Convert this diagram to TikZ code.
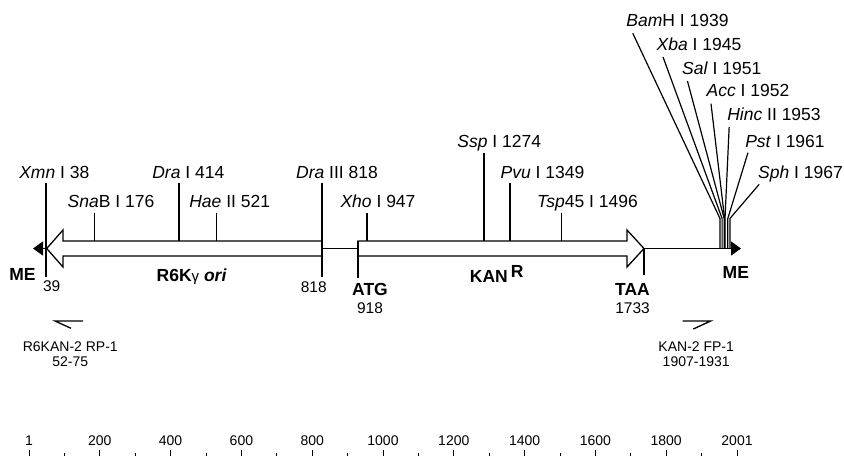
\documentclass[tikz,border=0pt]{standalone}
\usepackage{fontspec}
\setmainfont{Liberation Sans}
\usetikzlibrary{arrows.meta, positioning, calc}

\begin{document}
\begin{tikzpicture}[
    x=1pt, y=-1pt,
    line width=1.3pt,
    site/.style={anchor=base, inner sep=0pt, font=\fontsize{17.5}{20}\selectfont},
    num/.style={anchor=base, inner sep=0pt, font=\fontsize{15.5}{18}\selectfont},
    feature/.style={anchor=base, inner sep=0pt, font=\fontsize{17.5}{20}\selectfont\bfseries},
    primer/.style={anchor=base, inner sep=0pt, font=\fontsize{14}{16}\selectfont},
    scalelbl/.style={anchor=base, inner sep=0pt, font=\fontsize{14}{16}\selectfont},
    gene/.style={draw, fill=white},
    mcs/.style={line width=1.2pt},
    meend/.style={{Triangle[length=10pt,width=14pt]}-{Triangle[length=10pt,width=14pt]}}
]
    \useasboundingbox (0,0) rectangle (844,456);

    % Backbone
    \coordinate (meleft) at (33,248.5);
    \coordinate (meright) at (741,248.5);
    \draw[meend] (meleft) -- (meright);

    % Genes
    \draw[gene] (322,241) -- (63,241) -- (63,230) -- (46.7,248.5) -- (63,267) -- (63,256) -- (322,256) -- cycle;
    \draw[gene] (358,241) -- (627,241) -- (627,230) -- (644,248.5) -- (627,267) -- (627,256) -- (358,256) -- cycle;
    \node[feature] (ori) at (191.7,281.5) {R6K{\mdseries\fontsize{15}{15}\selectfont γ} \textit{ori}};
    \node[feature] (kan) at (496.7,282.7) {KAN\hspace{3pt}\raisebox{5pt}{R}};

    % Restriction sites
    \coordinate (xmnsite) at (46,277);
    \coordinate (snabsite) at (94.5,241);
    \coordinate (drasite) at (179,241);
    \coordinate (haesite) at (216.7,241);
    \coordinate (drathreesite) at (322,277);
    \coordinate (xhosite) at (367,241);
    \coordinate (sspsite) at (484,241);
    \coordinate (pvusite) at (510,241);
    \coordinate (tspsite) at (561.8,241);
    \node[site] (xmn) at (54.3,178) {\textit{Xmn} I 38};
    \node[site] (snab) at (111,207.5) {\textit{Sna}B I 176};
    \node[site] (dra) at (188.3,178) {\textit{Dra} I 414};
    \node[site] (hae) at (229.7,207.5) {\textit{Hae} II 521};
    \node[site] (drathree) at (337,178) {\textit{Dra} III 818};
    \node[site] (xho) at (378,207.5) {\textit{Xho} I 947};
    \node[site] (ssp) at (499.3,147.5) {\textit{Ssp} I 1274};
    \node[site] (pvu) at (542.5,178) {\textit{Pvu} I 1349};
    \node[site] (tsp) at (587.5,207.5) {\textit{Tsp}45 I 1496};
    \draw ($(xmn.base -| xmnsite)+(0,5)$) -- (xmnsite);
    \draw ($(snab.base -| snabsite)+(0,5)$) -- (snabsite);
    \draw ($(dra.base -| drasite)+(0,5)$) -- (drasite);
    \draw ($(hae.base -| haesite)+(0,5)$) -- (haesite);
    \draw ($(drathree.base -| drathreesite)+(0,5)$) -- (drathreesite);
    \draw ($(xho.base -| xhosite)+(0,5)$) -- (xhosite);
    \draw ($(ssp.base -| sspsite)+(0,5)$) -- (sspsite);
    \draw ($(pvu.base -| pvusite)+(0,5)$) -- (pvusite);
    \draw ($(tsp.base -| tspsite)+(0,5)$) -- (tspsite);

    % Multiple cloning site
    \coordinate (bamsite) at (720,248.5);
    \coordinate (xbasite) at (722.1,248.5);
    \coordinate (salsite) at (724.2,248.5);
    \coordinate (accsite) at (724.6,248.5);
    \coordinate (hincsite) at (725,248.5);
    \coordinate (pstsite) at (727.8,248.5);
    \coordinate (sphsite) at (729.9,248.5);
    \node[site] (bam) at (677.5,26.7) {\textit{Bam}H I 1939};
    \node[site] (xba) at (699,50) {\textit{Xba} I 1945};
    \node[site] (sal) at (721.7,74) {\textit{Sal} I 1951};
    \node[site] (acc) at (748,96.7) {\textit{Acc} I 1952};
    \node[site] (hinc) at (774,120) {\textit{Hinc} II 1953};
    \node[site] (pst) at (785,147.7) {\textit{Pst} I 1961};
    \node[site] (sph) at (800.5,178.3) {\textit{Sph} I 1967};
    \draw[mcs] ($(bam.base west)+(7,6.6)$) -- ([yshift=30pt]bamsite) -- (bamsite);
    \draw[mcs] ($(xba.base west)+(7,7)$) -- ([yshift=30pt]xbasite) -- (xbasite);
    \draw[mcs] ($(sal.base west)+(6,7)$) -- ([yshift=30pt]salsite) -- (salsite);
    \draw[mcs] ($(acc.base west)+(5,7)$) -- ([yshift=30pt]accsite) -- (accsite);
    \draw[mcs] ($(hinc.base west)+(2.5,7)$) -- ([yshift=30pt]hincsite) -- (hincsite);
    \draw[mcs] ($(pst.base west)+(3.3,5)$) -- ([yshift=30pt]pstsite) -- (pstsite);
    \draw[mcs] ($(sph.base west)+(1.7,6)$) -- ([yshift=30pt]sphsite) -- (sphsite);

    % Start and stop
    \coordinate (kanstart) at (358,241);
    \coordinate (atg) at (358,278);
    \coordinate (kantip) at (644,248.5);
    \coordinate (taa) at (644,275);
    \draw (kanstart) -- (atg);
    \draw (kantip) -- (taa);
    \node[feature] (atglbl) at (370,295) {ATG};
    \node[num, below=18.3pt of atglbl.base, anchor=base] (atgpos) {918};
    \node[feature] (taalbl) at (632.5,295) {TAA};
    \node[num, below=18.3pt of taalbl.base, anchor=base] (taapos) {1733};

    % Ends
    \node[feature] (meleftlbl) at (22.5,280) {ME};
    \node[feature] (merightlbl) at (735.8,278.3) {ME};
    \node[num] (xmnpos) at (51.7,291.7) {39};
    \node[num] (orientpos) at (313.7,292.7) {818};

    % Primers
    \draw (83,321) -- (55,321) -- (71,328.3);
    \draw (682.7,321) -- (710.7,321) -- (693.3,329);
    \node[primer] (rp) at (70.3,351) {R6KAN-2 RP-1};
    \node[primer, below=15.7pt of rp.base, anchor=base] (rppos) {52-75};
    \node[primer] (fp) at (696.2,351) {KAN-2 FP-1};
    \node[primer, below=15.7pt of fp.base, anchor=base] (fppos) {1907-1931};

    % Scale
    \foreach \i/\lbl in {0/1, 2/200, 4/400, 6/600, 8/800, 10/1000, 12/1200, 14/1400, 16/1600, 18/1800, 20/2001} {
        \node[scalelbl] (s\i) at ({29+35.4*\i},445) {\lbl};
        \draw[line width=1pt] ({29+35.4*\i},450) -- ++(0,6);
    }
    \foreach \i in {1,3,...,19}
        \draw[line width=1pt] ({29+35.4*\i},453) -- ++(0,3);

\end{tikzpicture}
\end{document}
